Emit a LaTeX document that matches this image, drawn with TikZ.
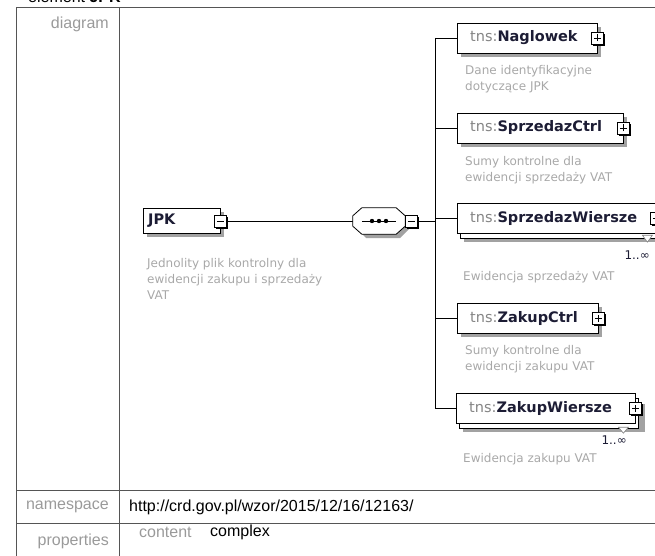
\documentclass[tikz,border=0pt]{standalone}
\usepackage{fontspec}
\setmainfont{Liberation Sans}
\newfontfamily\diagfont{DejaVu Sans}
\usetikzlibrary{calc}
\definecolor{labelgray}{HTML}{9A9A9A}
\definecolor{descgray}{HTML}{A8A8A8}
\definecolor{nsgray}{HTML}{858585}
\definecolor{namecol}{HTML}{1C1C34}
\definecolor{boxshade}{HTML}{A2A2A2}
\definecolor{gridline}{HTML}{555555}
\newcommand\elname[1]{{\color{nsgray}tns:}{\color{namecol}\bfseries #1}}
\tikzset{
  gridrule/.style={draw=gridline, line width=0.9pt},
  rowlabel/.style={anchor=east, inner sep=0, text=labelgray, font=\fontsize{16}{18}\selectfont},
  cellText/.style={anchor=west, inner sep=0, font=\fontsize{16}{18}\selectfont},
  shadefill/.style={fill=boxshade, draw=none},
  elembox/.style={draw=black, fill=white, anchor=west, align=left, inner xsep=13pt,
    minimum height=30, font=\diagfont\fontsize{14.5}{16}\selectfont},
  expander/.style={draw=black, fill=white, minimum size=12, inner sep=0},
  minusbox/.style={expander, path picture={
    \draw ([xshift=-3.5pt]path picture bounding box.center) -- ([xshift=3.5pt]path picture bounding box.center);}},
  plusbox/.style={expander, path picture={
    \draw ([xshift=-3.5pt]path picture bounding box.center) -- ([xshift=3.5pt]path picture bounding box.center);
    \draw ([yshift=-3.5pt]path picture bounding box.center) -- ([yshift=3.5pt]path picture bounding box.center);}},
  desc/.style={anchor=north west, align=left, inner sep=0, text=descgray,
    font=\diagfont\fontsize{12}{16}\selectfont},
  mult/.style={anchor=east, inner sep=0, text=namecol, font=\diagfont\fontsize{12}{14}\selectfont},
  tri/.style={draw=gray, fill=white, line width=0.6pt},
  link/.style={draw=black, line width=0.8pt}
}
\begin{document}
\begin{tikzpicture}[x=1pt,y=-1pt]
\useasboundingbox (0,0) rectangle (655,556);
% table
\node[anchor=base west, inner sep=0, font=\fontsize{16}{18}\selectfont] (title) at (28,3) {element \textbf{JPK}};
\draw[gridrule] (16,570) -- (16,7) -- (670,7);
\draw[gridrule] (119,7) -- (119,570);
\draw[gridrule] (16,490) -- (670,490);
\draw[gridrule] (16,523) -- (670,523);
\node[rowlabel] (lbldiagram) at (109,24) {diagram};
\node[rowlabel] (lblnamespace) at (109,507) {namespace};
\node[rowlabel] (lblproperties) at (109,541) {properties};
\node[cellText] (nsurl) at (129,507) {http://crd.gov.pl/wzor/2015/12/16/12163/};
\node[cellText, text=labelgray] (propkey) at (139,532) {content};
\node[cellText] (propval) at (210,532) {complex};

% shadows first, under the boxes
\path[shadefill] (147,212) rectangle (224,237);
\path[shadefill] (461,27) rectangle (601,57);
\path[shadefill] (461,117) rectangle (627,147);
\path[shadefill] (464,214) rectangle (666,242);
\path[shadefill] (461,307) rectangle (602,337);
\path[shadefill] (463,404) rectangle (645,432);
\path[shadefill] (366,212) -- (400,212) -- (409,220) -- (409,229) -- (400,238) -- (366,238) -- (357,229) -- cycle;

% root element
\node[elembox, inner xsep=5pt, text width=67pt, minimum height=25] (jpk) at (143,221) {\color{namecol}\bfseries JPK};
\node[minusbox] (jpkx) at (jpk.east) {};
\node[desc] (jpkdesc) at (147,258) {Jednolity plik kontrolny dla\\ewidencji zakupu i sprzedaży\\VAT};

% sequence
\node[minimum width=52, minimum height=26, inner sep=0] (seq) at (379,221) {};
\draw[link] (jpkx) -- (seq);
\draw[draw=black, line width=0.8pt, fill=white]
  ($(seq.north west)+(9,0)$) -- ($(seq.north east)+(-9,0)$) -- ($(seq.north east)+(0,8)$)
  -- ($(seq.south east)+(0,-8)$) -- ($(seq.south east)+(-9,0)$) -- ($(seq.south west)+(9,0)$)
  -- ($(seq.south west)+(0,-8)$) -- ($(seq.north west)+(0,8)$) -- cycle;
\draw[line width=0.9pt] ([xshift=9pt]seq.west) -- ([xshift=-9pt]seq.east);
\foreach \dx in {-7,0,7}
  \fill ([xshift=\dx pt]seq.center) circle (2.2);
\node[minusbox, anchor=west] (seqx) at (seq.east) {};

% children (stack copies behind the repeating ones)
\draw[fill=white] (460,208) rectangle (659,238);
\draw[fill=white] (459,398) rectangle (638,428);
\node[elembox, text width=114pt] (naglowek) at (457,38) {\elname{Naglowek}};
\node[elembox, text width=140pt] (sprzedazctrl) at (457,128) {\elname{SprzedazCtrl}};
\node[elembox, text width=173pt] (sprzedazwiersze) at (457,218) {\elname{SprzedazWiersze}};
\node[elembox, text width=115pt] (zakupctrl) at (457,318) {\elname{ZakupCtrl}};
\node[elembox, text width=153pt] (zakupwiersze) at (456,408) {\elname{ZakupWiersze}};
\foreach \el in {naglowek,sprzedazctrl,sprzedazwiersze,zakupctrl,zakupwiersze}
  \node[plusbox] (\el x) at (\el.east) {};
\foreach \ex in {jpkx,seqx,naglowekx,sprzedazctrlx,sprzedazwierszex,zakupctrlx,zakupwierszex}
  \draw[line width=1.6pt] ($(\ex.north east)+(0.8,2)$) |- ($(\ex.south west)+(2,0.8)$);

\coordinate (bustop) at (435,38);
\coordinate (busbot) at (435,408);
\draw[link] (bustop) -- (busbot);
\draw[link] (seqx) -- (seqx -| bustop);
\foreach \el in {naglowek,sprzedazctrl,sprzedazwiersze,zakupctrl,zakupwiersze}
  \draw[link] (\el.west) -- (\el.west -| bustop);

% occurrence marks
\draw[tri] ($(sprzedazwiersze.south east)+(-14,2)$) -- ++(10,0) -- ++(-5,7) -- cycle;
\draw[tri] ($(zakupwiersze.south east)+(-17,4)$) -- ++(10,0) -- ++(-5,6) -- cycle;
\node[mult] (swmult) at (650,255) {1..∞};
\node[mult] (zwmult) at (627,440) {1..∞};

% annotations
\node[desc] (naglowekdesc) at (465,65) {Dane identyfikacyjne\\dotyczące JPK};
\node[desc] (sprzedazctrldesc) at (465,156) {Sumy kontrolne dla\\ewidencji sprzedaży VAT};
\node[desc] (sprzedazwierszedesc) at (463,271) {Ewidencja sprzedaży VAT};
\node[desc] (zakupctrldesc) at (465,345) {Sumy kontrolne dla\\ewidencji zakupu VAT};
\node[desc] (zakupwierszedesc) at (463,453) {Ewidencja zakupu VAT};
\end{tikzpicture}
\end{document}
